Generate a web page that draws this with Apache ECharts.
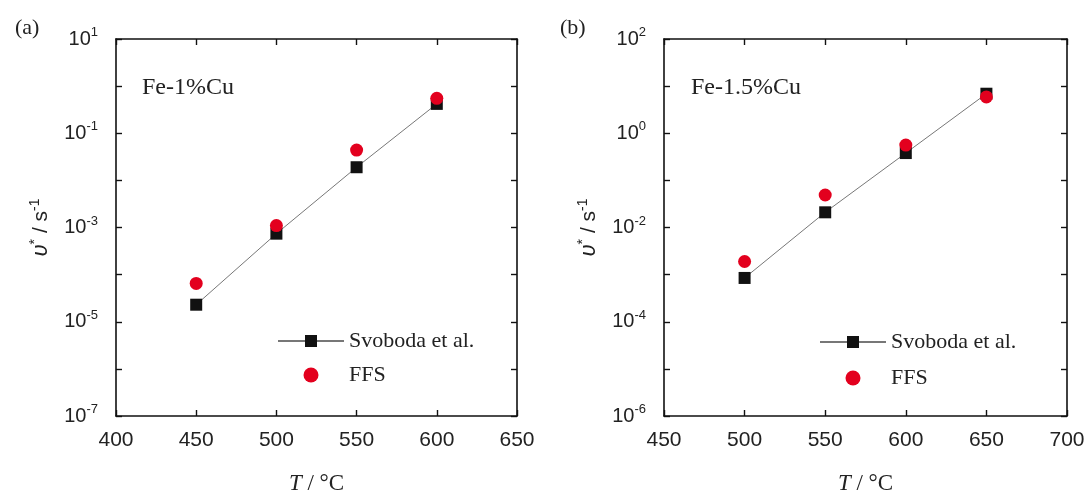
<!DOCTYPE html>
<html>
<head>
    <meta charset="utf-8" />
    <title>nucleation rate</title>
    <script src="https://cdn.jsdelivr.net/npm/echarts@6/dist/echarts.min.js"></script>
    <style>
        body { margin: 0; background: #fff; }
        #chart { width: 1090px; height: 500px; }
    </style>
</head>
<body>
    <div id="chart"></div>
    <script type="text/javascript">
    // panel (a) Fe-1%Cu
    var tempA = [450, 500, 550, 600];
    var svobodaA = [2.3e-5, 7.4e-4, 0.019, 0.42];
    var ffsA = [6.5e-5, 1.1e-3, 0.044, 0.55];
    // panel (b) Fe-1.5%Cu
    var tempB = [500, 550, 600, 650];
    var svobodaB = [8.5e-4, 0.021, 0.38, 6.9];
    var ffsB = [1.9e-3, 0.049, 0.56, 5.9];

    var xTicksA = [400, 450, 500, 550, 600, 650];
    var xTicksB = [450, 500, 550, 600, 650, 700];

    function pairs(xs, ys) {
        var out = [];
        for (var i = 0; i < xs.length; i++) out.push([xs[i], ys[i]]);
        return out;
    }

    var serif = '"Liberation Serif", "DejaVu Serif", serif';
    var sans = '"Liberation Sans", Arial, sans-serif';
    var axisLine = { show: true, onZero: false, lineStyle: { color: '#111', width: 1.6 } };
    var tick = { show: true, inside: true, length: 6, lineStyle: { color: '#111', width: 1.4 } };

    function logLabel(oddShown) {
        return function(v) {
            var e = Math.round(Math.log10(v));
            var odd = Math.abs(e) % 2 === 1;
            if (odd !== oddShown) return '';
            return '{b|10}{s|' + e + '}';
        };
    }
    var supRich = {
        b: { fontSize: 20, fontFamily: sans, color: '#222', lineHeight: 26 },
        s: { fontSize: 13, fontFamily: sans, color: '#222', verticalAlign: 'top', lineHeight: 14 }
    };
    var yName = '{v|υ}{sp|*}{n| / s}{sp|-1}';
    var yNameStyle = {
        rich: {
            v: { fontSize: 22, fontFamily: sans, fontStyle: 'italic', color: '#222', lineHeight: 26 },
            n: { fontSize: 21, fontFamily: sans, color: '#222', lineHeight: 26 },
            sp: { fontSize: 14, fontFamily: sans, color: '#222', verticalAlign: 'top', lineHeight: 14 }
        }
    };
    var xName = '{i|T}{n| / °C}';
    var xNameStyle = {
        rich: {
            i: { fontSize: 23, fontFamily: serif, fontStyle: 'italic', color: '#222' },
            n: { fontSize: 23, fontFamily: serif, color: '#222' }
        }
    };

    function xAxisPair(grid, min, max) {
        return [{
            type: 'value', gridIndex: grid, min: min, max: max, interval: 50,
            axisLine: axisLine, axisTick: tick, splitLine: { show: false },
            axisLabel: { fontSize: 21, fontFamily: sans, color: '#222', margin: 14 },
            name: xName, nameLocation: 'middle', nameGap: 56, nameTextStyle: xNameStyle
        }, {
            type: 'value', gridIndex: grid, position: 'top', min: min, max: max, interval: 50,
            axisLine: axisLine, axisTick: tick, splitLine: { show: false },
            axisLabel: { show: false }
        }];
    }

    function yAxisPair(grid, min, max, oddShown) {
        return [{
            type: 'log', logBase: 10, gridIndex: grid, min: min, max: max, interval: 1,
            axisLine: axisLine, axisTick: tick, splitLine: { show: false },
            axisLabel: { formatter: logLabel(oddShown), rich: supRich, margin: 18 },
            name: yName, nameLocation: 'middle', nameGap: 62, nameTextStyle: yNameStyle
        }, {
            type: 'log', logBase: 10, gridIndex: grid, position: 'right', min: min, max: max, interval: 1,
            axisLine: axisLine, axisTick: tick, splitLine: { show: false },
            axisLabel: { show: false }
        }];
    }

    function svobodaSeries(xi, yi, data) {
        return {
            name: 'Svoboda et al.', type: 'line', xAxisIndex: xi, yAxisIndex: yi,
            data: data, symbol: 'rect', symbolSize: 12, z: 2,
            itemStyle: { color: '#111' },
            lineStyle: { color: '#777', width: 1 }
        };
    }
    function ffsSeries(xi, yi, data) {
        return {
            name: 'FFS', type: 'scatter', xAxisIndex: xi, yAxisIndex: yi,
            data: data, symbol: 'circle', symbolSize: 13, z: 3,
            itemStyle: { color: '#e3001e', opacity: 1 }
        };
    }

    var legendText = { fontSize: 22, fontFamily: serif, color: '#222' };

    var option = {
        animation: false,
        title: [
            { text: '(a)', left: 10, top: 12, textStyle: { fontSize: 22, fontFamily: serif, fontWeight: 'normal', color: '#222' } },
            { text: '(b)', left: 555, top: 12, textStyle: { fontSize: 22, fontFamily: serif, fontWeight: 'normal', color: '#222' } },
            { text: 'Fe-1%Cu', left: 137, top: 71, textStyle: { fontSize: 24, fontFamily: serif, fontWeight: 'normal', color: '#222' } },
            { text: 'Fe-1.5%Cu', left: 686, top: 71, textStyle: { fontSize: 24, fontFamily: serif, fontWeight: 'normal', color: '#222' } }
        ],
        legend: [{
            left: 272, top: 325, orient: 'vertical', itemWidth: 66, itemHeight: 15, itemGap: 12,
            data: ['Svoboda et al.', 'FFS'], textStyle: legendText, selectedMode: false
        }, {
            left: 814, top: 326, orient: 'vertical', itemWidth: 66, itemHeight: 15, itemGap: 14,
            data: ['Svoboda et al.', 'FFS'], textStyle: legendText, selectedMode: false
        }],
        grid: [
            { left: 116, top: 39, width: 401, height: 377 },
            { left: 664, top: 39, width: 403, height: 377 }
        ],
        xAxis: xAxisPair(0, 400, 650).concat(xAxisPair(1, 450, 700)),
        yAxis: yAxisPair(0, 1e-7, 10, true).concat(yAxisPair(1, 1e-6, 100, false)),
        series: [
            svobodaSeries(0, 0, pairs(tempA, svobodaA)),
            ffsSeries(0, 0, pairs(tempA, ffsA)),
            svobodaSeries(2, 2, pairs(tempB, svobodaB)),
            ffsSeries(2, 2, pairs(tempB, ffsB))
        ]
    };

    var myChart = echarts.init(document.getElementById('chart'));
    myChart.setOption(option);
    </script>
</body>
</html>
